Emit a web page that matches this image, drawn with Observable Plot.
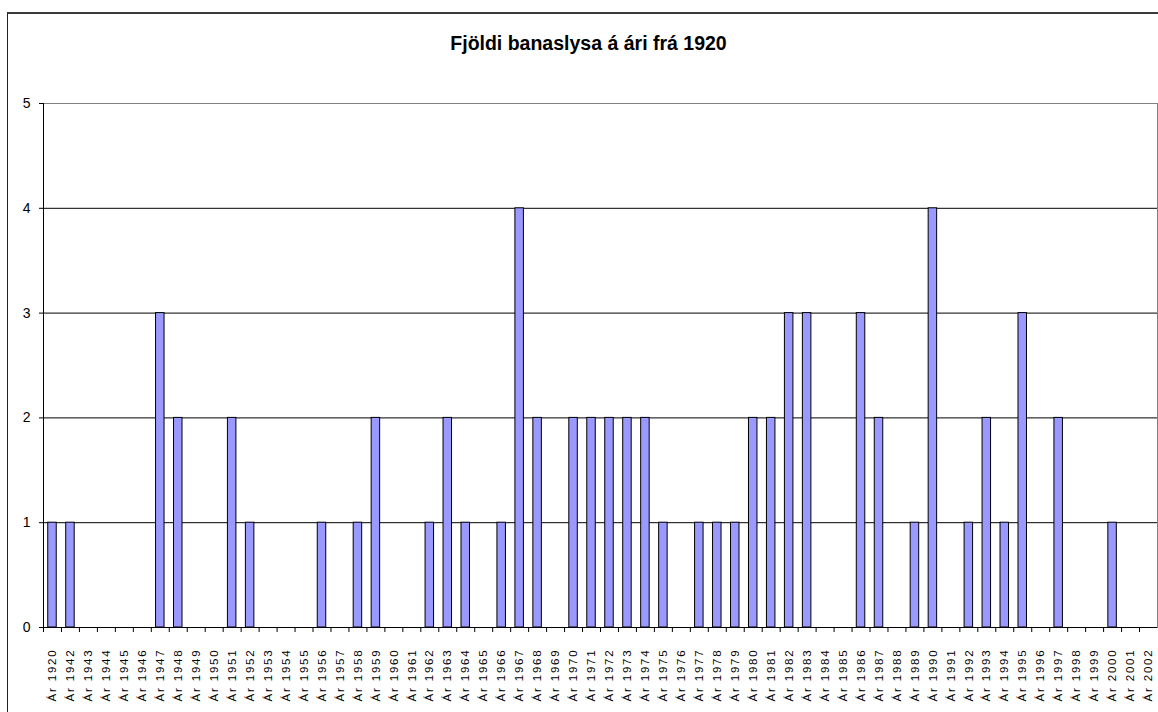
<!DOCTYPE html>
<html><head><meta charset="utf-8">
<script src="https://cdn.jsdelivr.net/npm/d3@7"></script>
<script src="https://cdn.jsdelivr.net/npm/@observablehq/plot@0.6"></script>
<style>
body{margin:0;background:#fff;}
#wrap{position:relative;width:1158px;height:712px;overflow:hidden;font-family:"Liberation Sans",Arial,sans-serif;background:#fff;}
#chart{position:absolute;left:0;top:0;}
#border{position:absolute;left:7px;top:12px;width:1200px;height:800px;border-left:1.5px solid #222;border-top:2px solid #3a3a3a;pointer-events:none;}
#title{position:absolute;left:0;width:1177px;top:33.5px;text-align:center;font-weight:bold;font-size:19.5px;line-height:19.5px;color:#000;}
</style></head>
<body><div id="wrap"><div id="chart"></div><div id="border"></div><div id="title">Fjöldi banaslysa á ári frá 1920</div></div>
<script>
const categories = ["Ár 1920","Ár 1942","Ár 1943","Ár 1944","Ár 1945","Ár 1946","Ár 1947","Ár 1948","Ár 1949","Ár 1950",
  "Ár 1951","Ár 1952","Ár 1953","Ár 1954","Ár 1955","Ár 1956","Ár 1957","Ár 1958","Ár 1959","Ár 1960",
  "Ár 1961","Ár 1962","Ár 1963","Ár 1964","Ár 1965","Ár 1966","Ár 1967","Ár 1968","Ár 1969","Ár 1970",
  "Ár 1971","Ár 1972","Ár 1973","Ár 1974","Ár 1975","Ár 1976","Ár 1977","Ár 1978","Ár 1979","Ár 1980",
  "Ár 1981","Ár 1982","Ár 1983","Ár 1984","Ár 1985","Ár 1986","Ár 1987","Ár 1988","Ár 1989","Ár 1990",
  "Ár 1991","Ár 1992","Ár 1993","Ár 1994","Ár 1995","Ár 1996","Ár 1997","Ár 1998","Ár 1999","Ár 2000",
  "Ár 2001","Ár 2002"];
const values = [1,1,0,0,0,0,3,2,0,0,
  2,1,0,0,0,1,0,1,2,0,
  0,1,2,1,0,1,4,2,0,2,
  2,2,2,2,1,0,1,1,1,2,
  2,3,3,0,0,3,2,0,1,4,
  0,1,2,1,3,0,2,0,0,1,
  0,0];
const yTicks = [0,1,2,3,4,5];
const titleText = "Fjöldi banaslysa á ári frá 1920";

const data = categories.map((c, i) => ({c, v: values[i]}));
const W = 1158, H = 712, mL = 43, mR = 1, mT = 103, mB = 85;
const step = (W - mL - mR) / categories.length;
const barInset = (step - 8.5) / 2;

const chart = Plot.plot({
  width: W, height: H,
  marginLeft: mL, marginRight: mR, marginTop: mT, marginBottom: mB,
  style: {background: "transparent", fontFamily: '"Liberation Sans", Arial, sans-serif', color: "#000"},
  x: {domain: categories, type: "band", padding: 0},
  y: {domain: [0, 5]},
  marks: [
    Plot.frame({stroke: "#808080"}),
    Plot.gridY(yTicks.filter(t => t > 0 && t < 5), {stroke: "#000", strokeOpacity: 1}),
    Plot.barY(data.filter(d => d.v > 0), {x: "c", y: "v", fill: "#9999ff", stroke: "#000", strokeWidth: 1, insetLeft: barInset, insetRight: barInset}),
    Plot.ruleY([0], {stroke: "#000"}),
    Plot.ruleX([categories[0]], {dx: -step / 2, stroke: "#000"}),
    Plot.axisY(yTicks, {tickSize: 4, tickPadding: 9, tickFormat: d3.format("d"), fontSize: 14, label: null}),
    Plot.axisX(categories, {tickSize: 5, tickFormat: () => "", dx: -step / 2, label: null}),
    Plot.axisX(categories, {tickSize: 0, tickPadding: 21, tickRotate: -90, fontSize: 11.5, label: null})
  ]
});
chart.querySelectorAll('g[aria-label="x-axis tick label"]').forEach(g => { g.style.letterSpacing = "1.8px"; });
document.getElementById("chart").appendChild(chart);
document.getElementById("title").textContent = titleText;
</script>
</body></html>
